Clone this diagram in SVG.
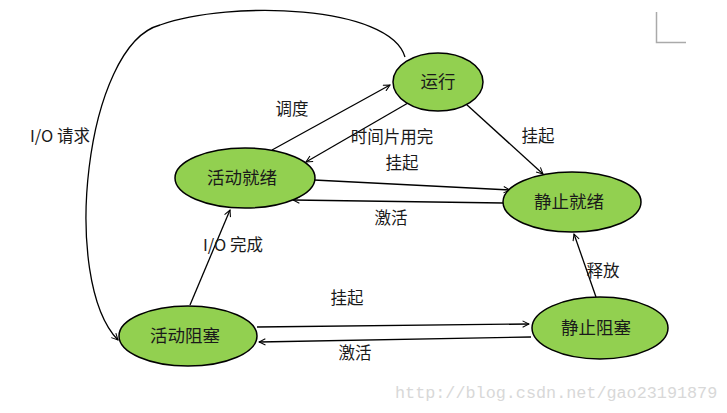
<svg xmlns="http://www.w3.org/2000/svg" width="727" height="413" viewBox="0 0 727 413">
<style>
.n{fill:#92D050;stroke:#000;stroke-width:1.5}
.t{font-family:"Noto Sans CJK SC","Liberation Sans",sans-serif;font-size:17.5px;fill:#1a1a1a;text-anchor:middle}
.l{font-family:"Noto Sans CJK SC","Liberation Sans",sans-serif;font-size:16.5px;fill:#1a1a1a;text-anchor:middle}
.c{fill:none;stroke:#000;stroke-width:1.3;marker-end:url(#a)}
</style>
<defs>
<marker id="a" viewBox="0 0 10 10" refX="9" refY="5" markerWidth="8" markerHeight="8" markerUnits="userSpaceOnUse" orient="auto">
<path d="M1,1 L9,5 L1,9" fill="none" stroke="#000" stroke-width="1.3"/>
</marker>
</defs>
<rect width="727" height="413" fill="#fff"/>
<path d="M656.5,12 V42.5 H686" fill="none" stroke="#aaa" stroke-width="1.5"/>
<g id="connectors">
<path class="c" d="M272,150 L390,85"/>
<path class="c" d="M408,103 L306,162"/>
<path class="c" d="M466,104 L543,174"/>
<path class="c" d="M314,180 L510,190"/>
<path class="c" d="M503,203 L293,200"/>
<path class="c" d="M190,305 L230,210"/>
<path class="c" d="M596,297 L574,234"/>
<path class="c" d="M257,327 L529,324"/>
<path class="c" d="M531,337 L259,342"/>
<path class="c" d="M405,57 C390,5 230,0 160,25 C85,45 60,280 118,340"/>
<text class="l" x="292" y="115">调度</text>
<text class="l" x="392" y="143">时间片用完</text>
<text class="l" x="538" y="142">挂起</text>
<text class="l" x="402" y="169">挂起</text>
<text class="l" x="391" y="224">激活</text>
<text class="l" x="233" y="251">I/O 完成</text>
<text class="l" x="603" y="277">释放</text>
<text class="l" x="347" y="304">挂起</text>
<text class="l" x="355" y="359">激活</text>
<text class="l" x="60" y="142">I/O 请求</text>
</g>
<g id="running"><ellipse class="n" cx="438" cy="82" rx="45" ry="29"/><text class="t" x="438" y="88">运行</text></g>
<g id="active-ready"><ellipse class="n" cx="245" cy="178" rx="70" ry="30"/><text class="t" x="242" y="184">活动就绪</text></g>
<g id="static-ready"><ellipse class="n" cx="572" cy="202" rx="69" ry="30"/><text class="t" x="569" y="208">静止就绪</text></g>
<g id="active-blocked"><ellipse class="n" cx="188" cy="336" rx="69" ry="30"/><text class="t" x="185" y="342">活动阻塞</text></g>
<g id="static-blocked"><ellipse class="n" cx="600" cy="328" rx="68" ry="31"/><text class="t" x="596" y="334">静止阻塞</text></g>
<text x="395" y="398" font-family="Liberation Mono,monospace" font-size="16.8" fill="#d8d8d8">http://blog.csdn.net/gao23191879</text>
</svg>
